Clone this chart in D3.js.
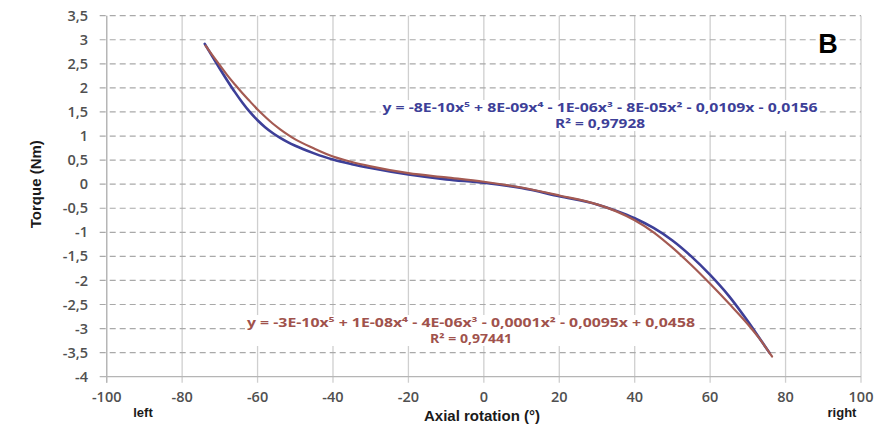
<!DOCTYPE html>
<html>
<head>
<meta charset="utf-8">
<script src="https://cdn.jsdelivr.net/npm/d3@7"></script>
<style>
  html, body { margin: 0; padding: 0; background: #fff; }
  svg { display: block; }
</style>
</head>
<body>
<svg id="chart" width="879" height="428"></svg>
<script>
// Torque vs axial rotation, two measured curves with polynomial fits
const xTicks = [-100, -80, -60, -40, -20, 0, 20, 40, 60, 80, 100];
const yTicks = [3.5, 3, 2.5, 2, 1.5, 1, 0.5, 0, -0.5, -1, -1.5, -2, -2.5, -3, -3.5, -4];

const blueX = [-74, -72, -70, -68, -66, -64, -62, -60, -58, -56, -54, -52, -50, -48, -45, -40, -35, -30, -20, -10, 0, 10, 20, 30, 35, 40, 45, 50, 55, 60, 65, 70, 73, 75.8];
const blueY = [2.916, 2.655, 2.398, 2.15, 1.912, 1.692, 1.496, 1.328, 1.184, 1.064, 0.962, 0.874, 0.798, 0.73, 0.64, 0.51, 0.415, 0.335, 0.2, 0.1, 0.03, -0.08, -0.25, -0.42, -0.55, -0.707, -0.91, -1.17, -1.5, -1.885, -2.325, -2.85, -3.19, -3.51];

const redX = [-73.8, -72, -70, -68, -66, -64, -62, -60, -58, -56, -54, -52, -50, -45, -40, -35, -30, -20, -10, 0, 10, 20, 30, 35, 40, 45, 50, 55, 60, 65, 70, 73, 76.4];
const redY = [2.88, 2.68, 2.47, 2.26, 2.07, 1.89, 1.72, 1.55, 1.40, 1.26, 1.14, 1.03, 0.93, 0.74, 0.574, 0.46, 0.37, 0.228, 0.14, 0.05, -0.07, -0.235, -0.42, -0.56, -0.75, -1.0, -1.32, -1.68, -2.07, -2.48, -2.91, -3.2, -3.58];

const blueEq = "y = -8E-10x⁵ + 8E-09x⁴ - 1E-06x³ - 8E-05x² - 0,0109x - 0,0156";
const blueR2 = "R² = 0,97928";
const redEq = "y = -3E-10x⁵ + 1E-08x⁴ - 4E-06x³ - 0,0001x² - 0,0095x + 0,0458";
const redR2 = "R² = 0,97441";

const svg = d3.select("#chart");
const x = d3.scaleLinear().domain([-100, 100]).range([106.7, 861]);
const y = d3.scaleLinear().domain([-4, 3.5]).range([376.7, 15.7]);
const fmt = v => String(v).replace(".", ",");

// vertical gridlines (solid) with ticks below the axis
svg.append("g").selectAll("line").data(xTicks).join("line")
  .attr("x1", d => x(d)).attr("x2", d => x(d))
  .attr("y1", y(3.5)).attr("y2", y(-4) + 6)
  .attr("stroke", "#cfcfcf").attr("stroke-width", 1.3);

// horizontal gridlines (dashed), extending left as ticks
svg.append("g").selectAll("line").data(yTicks.filter(d => d !== -4)).join("line")
  .attr("x1", x(-100) - 7).attr("x2", x(100))
  .attr("y1", d => y(d)).attr("y2", d => y(d))
  .attr("stroke", "#a9a9a9").attr("stroke-width", 1.2)
  .attr("stroke-dasharray", "6,4");

// axis lines
svg.append("line").attr("x1", x(-100) - 7).attr("x2", x(100))
  .attr("y1", y(-4)).attr("y2", y(-4)).attr("stroke", "#b5b5b5").attr("stroke-width", 1.3);
svg.append("line").attr("x1", x(-100)).attr("x2", x(-100))
  .attr("y1", y(3.5)).attr("y2", y(-4) + 6).attr("stroke", "#b5b5b5").attr("stroke-width", 1.3);

// tick labels
svg.append("g").selectAll("text").data(yTicks).join("text")
  .attr("x", 88).attr("y", d => y(d)).attr("dy", "0.35em")
  .attr("text-anchor", "end")
  .attr("font-family", "Open Sans, sans-serif").attr("font-size", 14.5).attr("font-weight", 600)
  .attr("fill", "#505050").text(fmt);

svg.append("g").selectAll("text").data(xTicks).join("text")
  .attr("x", d => x(d)).attr("y", 397).attr("dy", "0.35em")
  .attr("text-anchor", "middle")
  .attr("font-family", "Open Sans, sans-serif").attr("font-size", 14.5).attr("font-weight", 600)
  .attr("fill", "#505050").text(d => String(d));

// curves
const line = d3.line().x(d => x(d[0])).y(d => y(d[1])).curve(d3.curveMonotoneX);
const bluePts = blueX.map((v, i) => [v, blueY[i]]);
const redPts = redX.map((v, i) => [v, redY[i]]);

svg.append("path").datum(bluePts).attr("d", line)
  .attr("fill", "none").attr("stroke", "#3d3f98").attr("stroke-width", 2.6)
  .attr("stroke-linecap", "round");
svg.append("path").datum(redPts).attr("d", line)
  .attr("fill", "none").attr("stroke", "#a45a52").attr("stroke-width", 2.2)
  .attr("stroke-linecap", "round");

// trend equations with white boxes behind
function label(cx, cy, lines, color, widths) {
  const g = svg.append("g");
  const rect = g.append("rect").attr("fill", "#fff");
  lines.forEach((t, i) => {
    const txt = g.append("text")
      .attr("x", cx).attr("y", cy + i * 16).attr("dy", "0.35em")
      .attr("text-anchor", "middle")
      .attr("font-family", "Open Sans, sans-serif").attr("font-size", 11.5).attr("font-weight", 700)
      .attr("fill", color).text(t);
    if (widths[i]) txt.attr("textLength", widths[i]).attr("lengthAdjust", "spacingAndGlyphs");
  });
  const bb = g.node().getBBox();
  rect.attr("x", bb.x - 2).attr("y", bb.y).attr("width", bb.width + 4).attr("height", bb.height);
}
label(600, 108, [blueEq, blueR2], "#3d3f98", [435, 90]);
label(471, 323, [redEq, redR2], "#a0524c", [448, 82]);

// axis titles
svg.append("text")
  .attr("transform", `translate(36,${y(0)}) rotate(-90)`)
  .attr("text-anchor", "middle").attr("dy", "0.35em")
  .attr("font-family", "Liberation Sans, Arial, sans-serif").attr("font-size", 15).attr("font-weight", 700)
  .attr("fill", "#1a1a1a").text("Torque (Nm)");
svg.append("text").attr("x", 482).attr("y", 416).attr("dy", "0.35em")
  .attr("text-anchor", "middle")
  .attr("font-family", "Liberation Sans, Arial, sans-serif").attr("font-size", 15).attr("font-weight", 700)
  .attr("fill", "#1a1a1a").text("Axial rotation (°)");
svg.append("text").attr("x", 143).attr("y", 412).attr("dy", "0.35em")
  .attr("text-anchor", "middle")
  .attr("font-family", "Liberation Sans, Arial, sans-serif").attr("font-size", 13).attr("font-weight", 700)
  .attr("fill", "#1a1a1a").text("left");
svg.append("text").attr("x", 842).attr("y", 412).attr("dy", "0.35em")
  .attr("text-anchor", "middle")
  .attr("font-family", "Liberation Sans, Arial, sans-serif").attr("font-size", 13).attr("font-weight", 700)
  .attr("fill", "#1a1a1a").text("right");

// panel letter
svg.append("text").attr("x", 828).attr("y", 44).attr("dy", "0.35em")
  .attr("text-anchor", "middle")
  .attr("font-family", "Liberation Sans, Arial, sans-serif").attr("font-size", 27).attr("font-weight", 700)
  .attr("fill", "#000").text("B");
</script>
</body>
</html>
